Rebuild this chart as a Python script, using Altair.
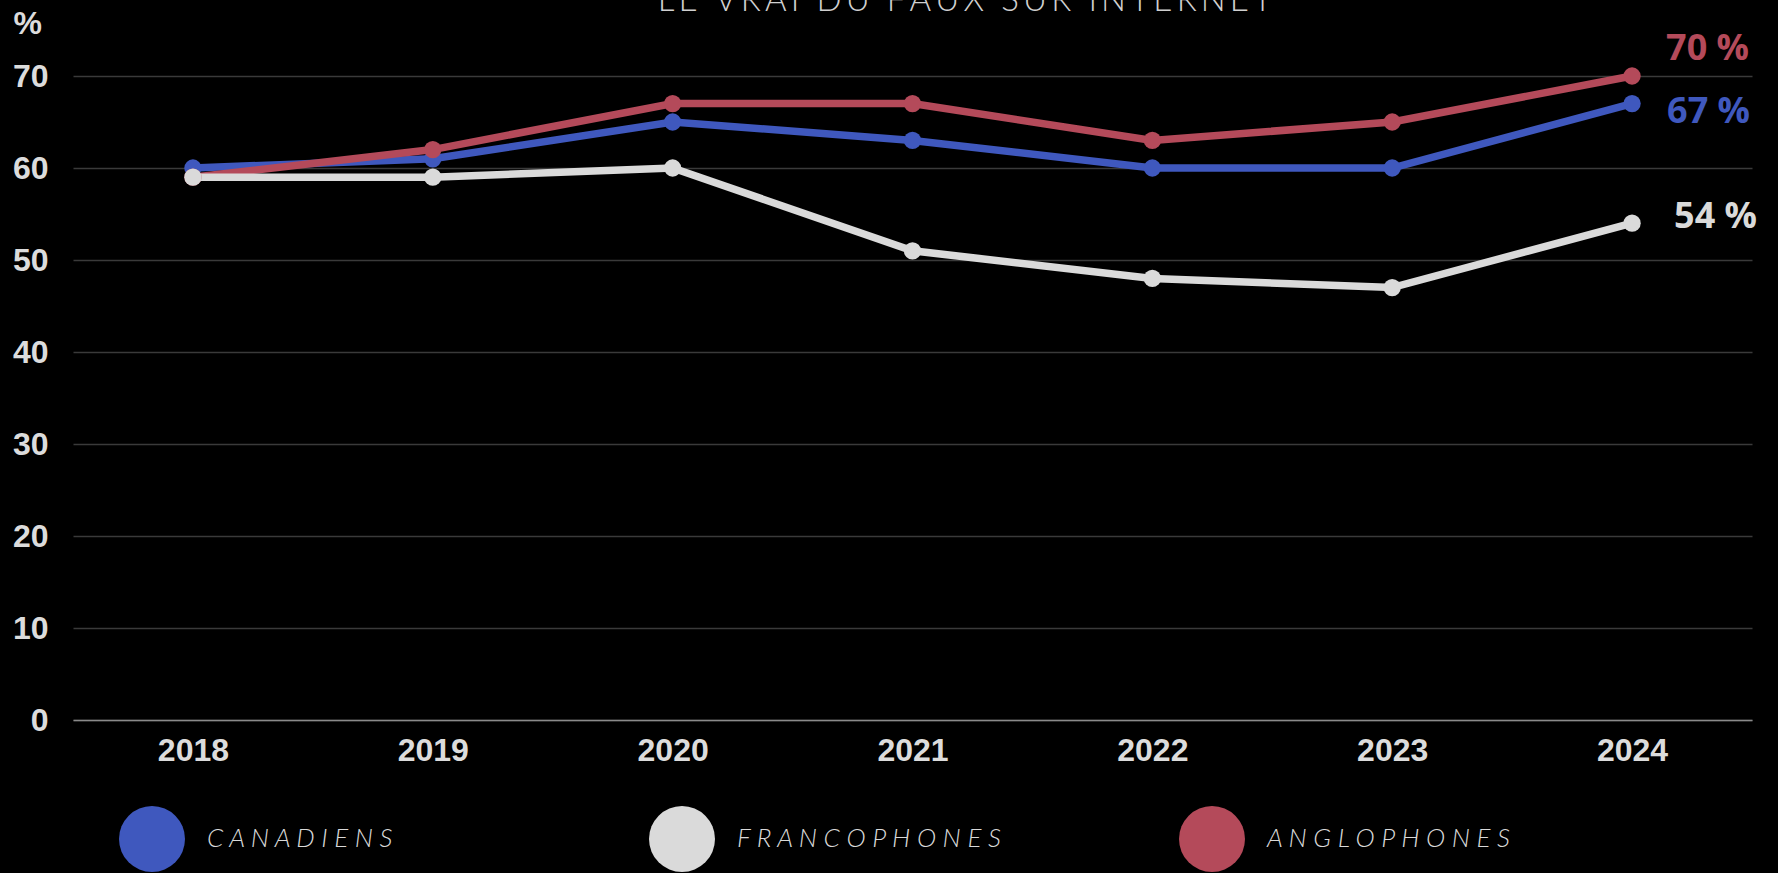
import altair as alt
import pandas as pd

# ---- data ----
years = [2018, 2019, 2020, 2021, 2022, 2023, 2024]
canadiens = [60, 61, 65, 63, 60, 60, 67]
anglophones = [59, 62, 67, 67, 63, 65, 70]
francophones = [59, 59, 60, 51, 48, 47, 54]
draw_order = ["CANADIENS", "ANGLOPHONES", "FRANCOPHONES"]
legend_order = ["CANADIENS", "FRANCOPHONES", "ANGLOPHONES"]
legend_colors = ["#3F58BE", "#DADADA", "#B44A5A"]
y_ticks = [0, 10, 20, 30, 40, 50, 60, 70]
title_text = "LE VRAI DU FAUX SUR INTERNET"

values_by_series = {
    "CANADIENS": canadiens,
    "ANGLOPHONES": anglophones,
    "FRANCOPHONES": francophones,
}
rows = []
for s in draw_order:
    for yr, v in zip(years, values_by_series[s]):
        rows.append({"series": s, "year": yr, "value": v})
df = pd.DataFrame(rows)

color_of = dict(zip(legend_order, legend_colors))
color_scale = alt.Scale(domain=legend_order, range=legend_colors)
# same mapping, listed in drawing order (kept separate so its legend stays hidden)
stroke_scale = alt.Scale(domain=draw_order, range=[color_of[s] for s in draw_order])
label_color = "#DCDCDC"
axis_font = "Liberation Sans"

x_enc = alt.X(
    "year:O",
    scale=alt.Scale(type="point", padding=0.5),
    axis=alt.Axis(
        labelAngle=0, labelFont=axis_font, labelFontWeight="bold", labelFontSize=32,
        labelColor=label_color, labelPadding=15, ticks=False, tickSize=0,
        domain=True, domainColor="#8A8A8A", domainWidth=1.5, grid=False, title=None,
    ),
)
y_enc = alt.Y(
    "value:Q",
    scale=alt.Scale(domain=[0, 70], nice=False, zero=True),
    axis=alt.Axis(
        values=y_ticks, labelFont=axis_font, labelFontWeight="bold", labelFontSize=32,
        labelColor=label_color, labelPadding=25, ticks=False, tickSize=0, domain=False,
        gridColor="#3A3A3A", gridWidth=1.3,
        title="%", titleAngle=0, titleX=-60, titleY=-43, titleAlign="left",
        titleBaseline="alphabetic", titleFont=axis_font, titleFontSize=32,
        titleFontWeight="bold", titleColor=label_color,
    ),
)

base = alt.Chart(df).encode(x=x_enc, y=y_enc)

lines = base.mark_line(strokeWidth=7.5).encode(
    stroke=alt.Stroke("series:N", scale=stroke_scale, legend=None)
)

points = base.mark_circle(size=300, opacity=1).encode(
    color=alt.Color(
        "series:N",
        scale=color_scale,
        legend=alt.Legend(
            orient="none", legendX=46, legendY=730, direction="horizontal", columns=3,
            title=None, symbolType="circle", symbolSize=4356, symbolStrokeWidth=0,
            symbolOpacity=1, labelFont="Lato", labelFontStyle="italic", labelFontWeight=300,
            labelFontSize=26, labelColor="#D9D9D9", labelOffset=22, labelLimit=500,
            columnPadding=175, gridAlign="all", padding=0,
            labelExpr="join(split(datum.label, ''), ' ')",
        ),
    )
)

end_labels = []
for s, dx, dy in [("ANGLOPHONES", 34, -16), ("CANADIENS", 35, 19), ("FRANCOPHONES", 42, 5)]:
    end_labels.append(
        base.transform_filter(
            (alt.datum.series == s) & (alt.datum.year == years[-1])
        ).transform_calculate(
            label="format(datum.value, 'd') + ' %'"
        ).mark_text(
            font="Open Sans", fontWeight="bold", fontSize=36, align="left",
            baseline="alphabetic", dx=dx, dy=dy, color=color_of[s],
        ).encode(text="label:N")
    )

spaced_title = "\u2009".join(list(title_text))
title = alt.Chart(pd.DataFrame({"t": [spaced_title]})).mark_text(
    font="Lato", fontWeight=300, fontSize=33, align="center", baseline="alphabetic",
    color="#D0D0D0",
).encode(text="t:N", x=alt.value(892), y=alt.value(-65))

chart = alt.layer(lines, points, *end_labels, title).properties(
    width=1679, height=644,
    autosize=alt.AutoSizeParams(type="none"),
    padding={"left": 73, "top": 76, "right": 26, "bottom": 153},
    background="#000000",
).configure_view(stroke=None)

chart.save("out.html", embed_options={"renderer": "svg", "actions": False})
